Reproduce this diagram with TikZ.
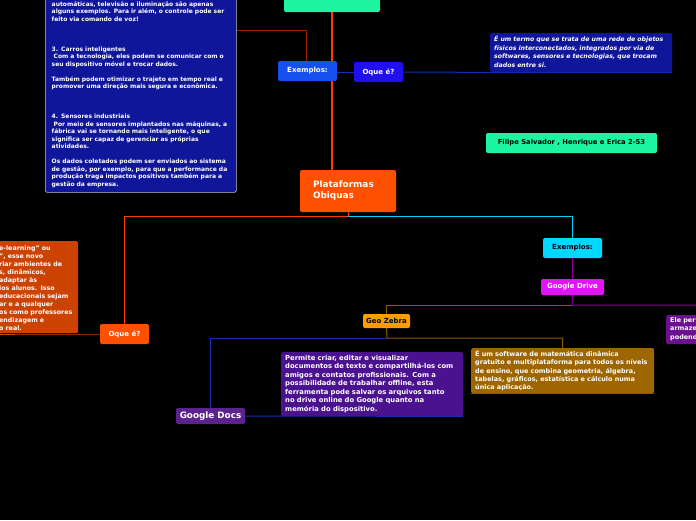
\documentclass[tikz,border=0pt]{standalone}
\usepackage{fontspec}
\setmainfont{DejaVu Sans}
\pgfdeclarelayer{bg}
\pgfdeclarelayer{lines}
\pgfsetlayers{bg,lines,main}
\definecolor{cgreen}{HTML}{1DF5A0}
\definecolor{cnavy}{HTML}{10169A}
\definecolor{cexa}{HTML}{1650F0}
\definecolor{coqa}{HTML}{2010F0}
\definecolor{cplat}{HTML}{FF5000}
\definecolor{corbox}{HTML}{CC4200}
\definecolor{ccyan}{HTML}{00D8FF}
\definecolor{cdrive}{HTML}{E014F5}
\definecolor{cgeo}{HTML}{FF9C00}
\definecolor{cbrown}{HTML}{9E6600}
\definecolor{cdocs}{HTML}{5C238F}
\definecolor{cpurp}{HTML}{4B1290}
\definecolor{cele}{HTML}{6A1090}
\definecolor{lred}{HTML}{FF3C00}
\definecolor{ldred}{HTML}{9A2000}
\definecolor{lcyan}{HTML}{00CFFF}
\definecolor{lpurp}{HTML}{8A0096}
\definecolor{lbrown}{HTML}{8B5A00}
\definecolor{lblue}{HTML}{1030B0}
\newcommand{\labfont}{\fontsize{7}{8}\selectfont\bfseries}
\newcommand{\txtfont}{\fontsize{6.45}{8.25}\selectfont\bfseries}
\begin{document}
\begin{tikzpicture}[x=1pt,y=-1pt,
  pill/.style={rounded corners=2pt, inner sep=0pt, font=\labfont},
  tbox/.style={rounded corners=1.5pt, inner sep=0pt, anchor=north west},
  txt/.style={text width=#1, align=left, inner sep=0pt, anchor=base west, text=white, font=\txtfont},
  conn/.style={line width=1pt}]
\useasboundingbox (0,0) rectangle (696,520);
\begin{pgfonlayer}{bg}
\fill[black] (0,0) rectangle (696,520);
\end{pgfonlayer}

% main nodes
\node[pill, fill=cgreen, minimum width=96pt, minimum height=30pt] (top) at (332,-3) {};
\node[pill, fill=cplat, minimum width=96pt, minimum height=42pt, text width=70pt, inner xsep=13pt, align=left, text=white, font={\fontsize{8.9}{11}\selectfont\bfseries}] (plat) at (348,191) {Plataformas\\Obiquas};

% top branch
\node[pill, fill=cexa, text=white, minimum width=59pt, minimum height=20pt] (exa) at (307.5,71) {Exemplos:};
\node[pill, fill=coqa, text=white, minimum width=49pt, minimum height=20pt] (oqa) at (378.5,72) {Oque é?};
\node[tbox, fill=cnavy, draw=white!75!black, line width=0.6pt, minimum width=191pt, minimum height=202pt] (iot) at (45,-10) {};
\node[txt=185pt, font={\fontsize{6}{7.5}\selectfont\bfseries}] (iott) at (51.5,6) {automáticas, televisão e iluminação são apenas\\
alguns exemplos. Para ir além, o controle pode ser\\
feito via comando de voz!\\ ~\\ ~\\ ~\\
3. Carros inteligentes\\
\hspace*{2pt}Com a tecnologia, eles podem se comunicar com o\\
seu dispositivo móvel e trocar dados.\\ ~\\
Também podem otimizar o trajeto em tempo real e\\
promover uma direção mais segura e econômica.\\ ~\\ ~\\ ~\\
4. Sensores industriais\\
\hspace*{2pt}Por meio de sensores implantados nas máquinas, a\\
fábrica vai se tornando mais inteligente, o que\\
significa ser capaz de gerenciar as próprias\\
atividades.\\ ~\\
Os dados coletados podem ser enviados ao sistema\\
de gestão, por exemplo, para que a performance da\\
produção traga impactos positivos também para a\\
gestão da empresa.};
\node[tbox, fill=cnavy, minimum width=182pt, minimum height=39pt] (def) at (490,33) {};
\node[txt=178pt, font={\fontsize{6.2}{8.6}\selectfont\bfseries\itshape}] (deft) at (494,41.5) {É um termo que se trata de uma rede de objetos\\
físicos interconectados, integrados por via de\\
softwares, sensores e tecnologias, que trocam\\
dados entre si.};
\node[pill, fill=cgreen, minimum width=171pt, minimum height=20pt, font={\fontsize{6.8}{8}\selectfont\bfseries}] (auth) at (571.5,143) {Filipe Salvador , Henrique e Erica 2-53};

% left branch
\node[pill, fill=cplat, text=white, minimum width=49pt, minimum height=20pt] (oqb) at (124.5,334) {Oque é?};
\node[tbox, fill=corbox, minimum width=128pt, minimum height=92pt] (ead) at (-50,241) {};
\node[txt=120pt, font={\fontsize{6.3}{8}\selectfont\bfseries}] (eadt) at (-1,250) {e-learning" ou\\
", esse novo\\
riar ambientes de\\
s, dinâmicos,\\
adaptar às\\
ios alunos. Isso\\
educacionais sejam\\
ar e a qualquer\\
os como professores\\
endizagem e\\
o real.};

% right branch
\node[pill, fill=ccyan, minimum width=59pt, minimum height=20pt] (exb) at (572.5,248) {Exemplos:};
\node[pill, fill=cdrive, text=white, minimum width=63pt, minimum height=16pt] (drive) at (572.5,287) {Google Drive};
\node[tbox, fill=cele, minimum width=100pt, minimum height=29pt] (ele) at (666,315) {};
\node[txt=100pt] (elet) at (670,322.5) {Ele permite\\armazenar\\podendo};
\node[pill, fill=cgeo, minimum width=47pt, minimum height=14pt] (geo) at (386.5,321) {Geo Zebra};
\node[tbox, fill=cbrown, minimum width=183pt, minimum height=45pt] (geod) at (471,348) {};
\node[txt=180pt] (geodt) at (475,356.5) {É um software de matemática dinâmica\\
gratuito e multiplataforma para todos os níveis\\
de ensino, que combina geometria, álgebra,\\
tabelas, gráficos, estatística e cálculo numa\\
única aplicação.};
\node[pill, fill=cdocs, text=white, minimum width=69pt, minimum height=16pt, font={\fontsize{8.8}{9}\selectfont\bfseries}] (docs) at (210.5,416) {Google Docs};
\node[tbox, fill=cpurp, minimum width=182pt, minimum height=64pt] (docsd) at (281,352) {};
\node[txt=180pt, font={\fontsize{6.8}{8.45}\selectfont\bfseries}] (docsdt) at (285,360.5) {Permite criar, editar e visualizar\\
documentos de texto e compartilhá-los com\\
amigos e contatos profissionais. Com a\\
possibilidade de trabalhar offline, esta\\
ferramenta pode salvar os arquivos tanto\\
no drive online do Google quanto na\\
memória do dispositivo.};

\coordinate (jp) at (348,216);
\coordinate (jd) at (572,305);
\coordinate (jg) at (387,338);

\begin{pgfonlayer}{lines}
\draw[lred, line width=2.4pt] (top.south -| 332,0) -- (plat.north -| 332,0);
\draw[conn, ldred] (iot.east |- 0,30) -| (exa.north -| 306,0);
\draw[conn, lblue] (exa.east |- oqa.west) -- (oqa.west);
\draw[conn, lblue] (oqa.east) -- (def.south west) -- (def.south east);
\draw[conn, lred] (plat.south) -- (jp) -| (oqb.north);
\draw[conn, lcyan] (jp) -| (exb.north);
\draw[conn, corbox] (oqb.west) -- (ead.south east |- oqb.west) -- (ead.south west |- oqb.west);
\draw[conn, lpurp] (exb.south) -- (drive.north);
\draw[conn, lpurp] (drive.south) -- (jd) -| (ele.north east);
\draw[conn, lbrown] (jd) -| (geo.north);
\draw[conn, lbrown] (geo.south) -- (jg) -| (geod.north);
\draw[conn, lbrown] (geod.south west) -- (geod.south east);
\draw[conn, lblue] (jg) -| (docs.north);
\draw[conn, lblue] (docs.east) -- (docsd.south east);
\end{pgfonlayer}
\end{tikzpicture}
\end{document}
